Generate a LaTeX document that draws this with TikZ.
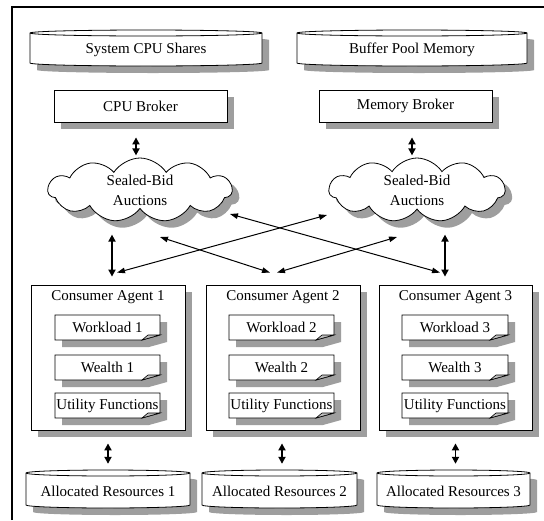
\documentclass[tikz,border=0pt]{standalone}
\usepackage{fontspec}
\setmainfont{Liberation Serif}
\usetikzlibrary{arrows.meta,shapes.symbols,shadows,calc}
\definecolor{shd}{gray}{0.62}
\newcommand\lblfont{\fontsize{15}{20}\selectfont}
\tikzset{
  lbl/.style={font=\lblfont, inner sep=0pt, align=center},
  shadowed/.style={general shadow={fill=shd, shadow xshift=7pt, shadow yshift=-7pt}},
  boxn/.style={draw, fill=white, line width=0.8pt, inner sep=0pt, font=\lblfont, shadowed},
  cloudn/.style={cloud, cloud puffs=11, cloud puff arc=115, cloud ignores aspect, draw, fill=white, line width=0.8pt,
     inner sep=0pt, font=\lblfont, align=center, shadowed},
  dbl/.style={{Triangle[length=7pt,width=7pt]}-{Triangle[length=7pt,width=7pt]}, line width=1.8pt},
  xarr/.style={{Triangle[length=8pt,width=5.5pt]}-{Triangle[length=8pt,width=5.5pt]}, line width=1pt},
  frame/.style={line width=1.2pt}
}
% cylinder: name, x1, y1, x2, y2, text
\newcommand\cylfig[6]{%
  \pgfmathsetmacro\cylr{(#4-#2)/2}%
  \fill[shd, shift={(7pt,-7pt)}] (#2,{#3+3}) -- (#2,{#5-3})
     arc[start angle=180,end angle=360,x radius=\cylr pt,y radius=3pt] -- (#4,{#3+3})
     arc[start angle=0,end angle=180,x radius=\cylr pt,y radius=3pt] -- cycle;
  \draw[fill=white, line width=0.8pt] (#2,{#3+3}) -- (#2,{#5-3})
     arc[start angle=180,end angle=360,x radius=\cylr pt,y radius=3pt] -- (#4,{#3+3})
     arc[start angle=0,end angle=180,x radius=\cylr pt,y radius=3pt] -- cycle;
  \draw[line width=0.8pt] (#2,{#3+3}) arc[start angle=180,end angle=360,x radius=\cylr pt,y radius=3pt];
  \node[lbl, minimum width={(#4-#2)*1pt}, minimum height={(#5-#3)*1pt}] (#1) at ({(#2+#4)/2},{(#3+#5)/2+2}) {#6};
}
% document: name, x1, y1, x2, y2, text
\newcommand\docfig[6]{%
  \fill[shd, shift={(7pt,-7pt)}] (#2,#3) -- (#4,#3) -- (#4,{#5-5}) -- ({#4-18},#5) -- (#2,#5) -- cycle;
  \draw[fill=white, line width=0.8pt] (#2,#3) -- (#4,#3) -- (#4,{#5-5}) -- ({#4-18},#5) -- (#2,#5) -- cycle;
  \draw[fill=black!25, line width=0.6pt] ({#4-18},#5) -- ({#4-12},{#5-5}) -- (#4,{#5-5}) -- cycle;
  \node[lbl, minimum width={(#4-#2)*1pt}, minimum height={(#5-#3)*1pt}] (#1) at ({(#2+#4)/2},{(#3+#5)/2}) {#6};
}
\begin{document}
\begin{tikzpicture}[x=1pt, y=-1pt]
\useasboundingbox (0,0) rectangle (544,520);
\draw[frame] (12,520) -- (12,7) -- (544,7);

% resources at top
\cylfig{cpu}{30}{30}{262}{66}{System CPU Shares}
\cylfig{buf}{297}{30}{527}{66}{Buffer Pool Memory}

% brokers
\node[boxn, minimum width=173pt, minimum height=32pt] (cpub) at (140.5,106) {CPU Broker};
\node[boxn, minimum width=173pt, minimum height=32pt] (memb) at (405.5,106) {Memory Broker};

% auctions
\node[cloudn, minimum width=184pt, minimum height=64pt] (cl1) at (140,190) {Sealed-Bid\\Auctions};
\node[cloudn, minimum width=176pt, minimum height=64pt] (cl2) at (417,190) {Sealed-Bid\\Auctions};

% agents
\node[boxn, minimum width=154pt, minimum height=145pt,
  label={[lbl, anchor=north, yshift=-6pt]north:Consumer Agent 1}] (ag1) at (108,357.5) {};
\node[boxn, minimum width=154pt, minimum height=145pt,
  label={[lbl, anchor=north, yshift=-6pt]north:Consumer Agent 2}] (ag2) at (283,357.5) {};
\node[boxn, minimum width=153pt, minimum height=145pt,
  label={[lbl, anchor=north, yshift=-6pt]north:Consumer Agent 3}] (ag3) at (455.5,357.5) {};

\docfig{wl1}{55}{315}{160}{340}{Workload 1}
\docfig{we1}{55}{355}{160}{380}{Wealth 1}
\docfig{uf1}{55}{393}{160}{418}{Utility Functions}
\docfig{wl2}{229}{315}{334}{340}{Workload 2}
\docfig{we2}{229}{355}{334}{380}{Wealth 2}
\docfig{uf2}{229}{393}{334}{418}{Utility Functions}
\docfig{wl3}{402}{315}{508}{340}{Workload 3}
\docfig{we3}{402}{355}{508}{380}{Wealth 3}
\docfig{uf3}{402}{393}{508}{418}{Utility Functions}

% allocated resources
\cylfig{ar1}{26}{470}{190}{508}{Allocated Resources 1}
\cylfig{ar2}{202}{470}{357}{508}{Allocated Resources 2}
\cylfig{ar3}{377}{470}{530}{508}{Allocated Resources 3}

% broker <-> auction
\draw[dbl] ([xshift=-4.5pt,yshift=-15pt]cpub.south) -- ([xshift=-4.5pt,yshift=-33pt]cpub.south);
\draw[dbl] ([xshift=6.5pt,yshift=-15pt]memb.south) -- ([xshift=6.5pt,yshift=-33pt]memb.south);

% auction <-> agents
\draw[dbl] ([xshift=4pt,yshift=50pt]ag1.north) -- ([xshift=4pt,yshift=8pt]ag1.north);
\draw[dbl] ([xshift=-10.5pt,yshift=50pt]ag3.north) -- ([xshift=-10.5pt,yshift=8pt]ag3.north);
\draw[xarr] ([xshift=90pt,yshift=-24pt]cl1.center) -- ([xshift=-15.5pt,yshift=12pt]ag3.north);
\draw[xarr] ([xshift=9pt,yshift=12pt]ag1.north) -- ([xshift=-90pt,yshift=-25pt]cl2.center);
\draw[xarr] ([xshift=20pt,yshift=-47pt]cl1.center) -- ([xshift=-13pt,yshift=12pt]ag2.north);
\draw[xarr] ([xshift=-6pt,yshift=12pt]ag2.north) -- ([xshift=-20pt,yshift=-47pt]cl2.center);

% agents <-> allocated resources
\draw[dbl] ([yshift=-13pt]ag1.south) -- ([yshift=8pt]ar1.north);
\draw[dbl] ([xshift=-1pt,yshift=-13pt]ag2.south) -- ([xshift=-1pt,yshift=8pt]ar2.north -| ag2.south);
\draw[dbl] ([yshift=-13pt]ag3.south) -- ([yshift=8pt]ar3.north -| ag3.south);
\end{tikzpicture}
\end{document}
